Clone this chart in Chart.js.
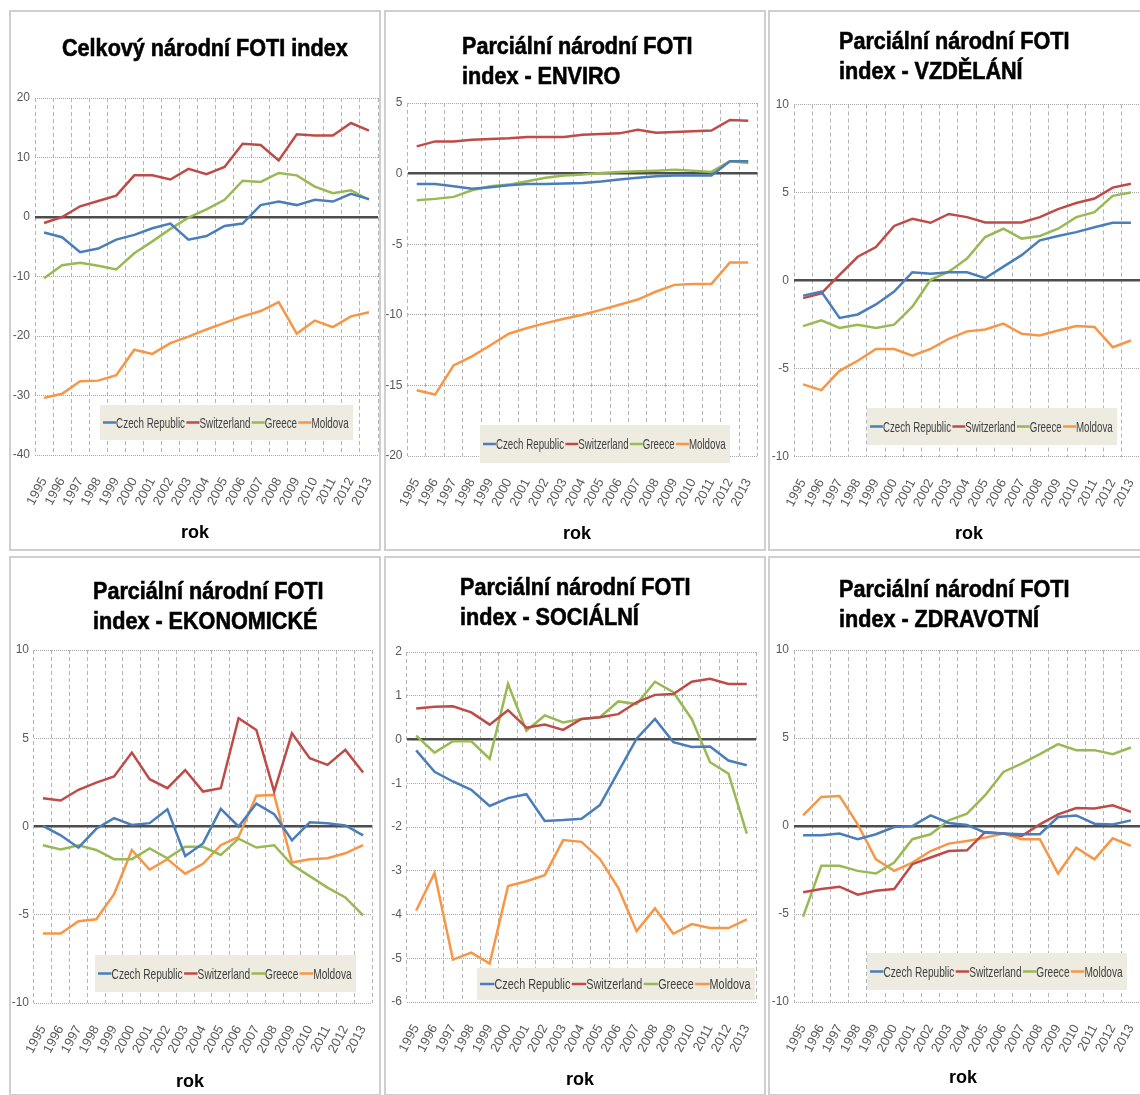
<!DOCTYPE html>
<html>
<head>
<meta charset="utf-8">
<script src="https://cdn.jsdelivr.net/npm/chart.js@4"></script>
<style>
  body { margin: 0; width: 1140px; height: 1095px; overflow: hidden; background: #fff; position: relative; }
  canvas { position: absolute; }
  .frame { position: absolute; border: 2px solid #cfcfcf; box-sizing: border-box; pointer-events: none; }
  .title { position: absolute; font-family: 'Liberation Sans', Arial, sans-serif; font-weight: bold; font-size: 24px; line-height: 30px;
           color: #000; white-space: nowrap; -webkit-text-stroke: 0.6px #000; transform-origin: left top; transform: scaleX(0.9); }
  .rok { position: absolute; font-family: 'Liberation Sans', Arial, sans-serif; font-weight: bold; font-size: 18px; line-height: 20px; color: #000; transform: translateX(-50%); }
</style>
</head>
<body>
<script>
const years = ['1995', '1996', '1997', '1998', '1999', '2000', '2001', '2002', '2003', '2004',
  '2005', '2006', '2007', '2008', '2009', '2010', '2011', '2012', '2013'];
const seriesNames = ['Czech Republic', 'Switzerland', 'Greece', 'Moldova'];

// Celkový národní FOTI index
const totalCz = [-2.6, -3.4, -5.9, -5.3, -3.8, -3.0, -1.9, -1.1, -3.8, -3.2, -1.5, -1.1, 2.0, 2.6, 2.0, 2.9, 2.6, 3.9, 3.0];
const totalCh = [-1.0, 0.0, 1.8, 2.7, 3.6, 7.0, 7.0, 6.3, 8.1, 7.2, 8.4, 12.3, 12.1, 9.5, 13.9, 13.7, 13.7, 15.8, 14.5];
const totalGr = [-10.3, -8.1, -7.7, -8.2, -8.8, -6.1, -4.1, -2.0, -0.1, 1.3, 2.9, 6.1, 5.9, 7.4, 7.0, 5.1, 4.0, 4.5, 2.9];
const totalMd = [-30.4, -29.7, -27.6, -27.5, -26.6, -22.3, -23.0, -21.2, -20.1, -18.9, -17.8, -16.7, -15.8, -14.3, -19.6, -17.4, -18.5, -16.7, -16.0];

// ENVIRO
const enviroCz = [-0.73, -0.73, -0.9, -1.08, -0.96, -0.82, -0.73, -0.73, -0.7, -0.66, -0.56, -0.42, -0.3, -0.19, -0.14, -0.14, -0.14, 0.87, 0.87];
const enviroCh = [1.93, 2.28, 2.28, 2.4, 2.45, 2.5, 2.6, 2.6, 2.6, 2.75, 2.8, 2.85, 3.1, 2.9, 2.95, 3.0, 3.05, 3.8, 3.75];
const enviroGr = [-1.88, -1.79, -1.65, -1.18, -0.9, -0.78, -0.54, -0.3, -0.14, -0.07, 0.05, 0.12, 0.16, 0.21, 0.28, 0.21, 0.12, 0.87, 0.75];
const enviroMd = [-15.34, -15.65, -13.58, -12.94, -12.16, -11.34, -10.94, -10.59, -10.28, -10.0, -9.65, -9.29, -8.92, -8.35, -7.88, -7.81, -7.81, -6.3, -6.3];

// VZDĚLÁNÍ
const eduCz = [-0.86, -0.63, -2.13, -1.93, -1.36, -0.63, 0.47, 0.39, 0.47, 0.47, 0.13, 0.79, 1.44, 2.28, 2.53, 2.75, 3.03, 3.28, 3.28];
const eduCh = [-1.0, -0.73, 0.32, 1.35, 1.9, 3.1, 3.5, 3.28, 3.78, 3.6, 3.3, 3.3, 3.3, 3.6, 4.06, 4.4, 4.66, 5.28, 5.5];
const eduGr = [-2.59, -2.26, -2.7, -2.51, -2.7, -2.51, -1.49, 0.04, 0.5, 1.25, 2.47, 2.94, 2.38, 2.53, 2.94, 3.6, 3.88, 4.81, 5.0];
const eduMd = [-5.9, -6.23, -5.13, -4.56, -3.89, -3.89, -4.27, -3.89, -3.31, -2.89, -2.78, -2.45, -3.03, -3.12, -2.84, -2.59, -2.64, -3.79, -3.41];

// EKONOMICKÉ
const econCz = [0.04, -0.5, -1.2, -0.13, 0.47, 0.09, 0.19, 0.98, -1.67, -0.96, 1.0, 0.0, 1.3, 0.7, -0.78, 0.24, 0.19, 0.06, -0.5];
const econCh = [1.6, 1.47, 2.08, 2.49, 2.83, 4.19, 2.68, 2.17, 3.2, 1.98, 2.17, 6.13, 5.47, 1.98, 5.28, 3.87, 3.49, 4.34, 3.06];
const econGr = [-1.06, -1.3, -1.06, -1.33, -1.85, -1.85, -1.24, -1.8, -1.15, -1.15, -1.61, -0.69, -1.19, -1.06, -2.17, -2.81, -3.46, -4.02, -5.04];
const econMd = [-6.06, -6.06, -5.37, -5.26, -3.83, -1.33, -2.44, -1.85, -2.67, -2.11, -1.06, -0.59, 1.74, 1.79, -2.04, -1.85, -1.8, -1.52, -1.06];

// SOCIÁLNÍ
const socCz = [-0.25, -0.74, -0.96, -1.15, -1.52, -1.34, -1.25, -1.86, -1.84, -1.81, -1.5, -0.74, 0.02, 0.47, -0.06, -0.17, -0.16, -0.48, -0.59];
const socCh = [0.71, 0.75, 0.76, 0.62, 0.34, 0.67, 0.27, 0.34, 0.22, 0.47, 0.51, 0.58, 0.85, 1.02, 1.04, 1.32, 1.39, 1.27, 1.27];
const socGr = [0.09, -0.3, -0.04, -0.04, -0.44, 1.27, 0.2, 0.55, 0.39, 0.47, 0.51, 0.87, 0.81, 1.32, 1.08, 0.47, -0.52, -0.78, -2.15];
const socMd = [-3.91, -3.05, -5.03, -4.87, -5.12, -3.35, -3.24, -3.1, -2.3, -2.34, -2.73, -3.39, -4.38, -3.86, -4.44, -4.22, -4.31, -4.31, -4.11];

// ZDRAVOTNÍ
const healthCz = [-0.53, -0.53, -0.43, -0.75, -0.47, -0.06, 0.0, 0.6, 0.17, 0.06, -0.38, -0.43, -0.47, -0.47, 0.51, 0.6, 0.13, 0.09, 0.32];
const healthCh = [-3.77, -3.58, -3.45, -3.9, -3.68, -3.58, -2.17, -1.79, -1.42, -1.38, -0.34, -0.43, -0.57, 0.09, 0.66, 1.02, 0.99, 1.18, 0.8];
const healthGr = [-5.15, -2.26, -2.26, -2.55, -2.7, -2.08, -0.75, -0.47, 0.32, 0.7, 1.75, 3.07, 3.55, 4.08, 4.65, 4.31, 4.31, 4.08, 4.46];
const healthMd = [0.6, 1.65, 1.7, 0.09, -1.89, -2.55, -2.08, -1.42, -1.0, -0.85, -0.66, -0.43, -0.75, -0.75, -2.7, -1.23, -1.89, -0.7, -1.13];

const colors = ['#4a7ebb', '#be4b48', '#98b954', '#f79646'];
const tickFont = "'Liberation Sans Narrow', 'Liberation Sans', Arial, sans-serif";
const Y_WIDTH = 22;
const X_HEIGHT = 66;

// box = panel frame, area = plot area, legend = legend box, all in page pixels
const panels = [
  { box: [9, 10, 372, 541], area: [35, 98, 378, 455], min: -40, max: 20, step: 10,
    series: [totalCz, totalCh, totalGr, totalMd], legend: [100, 405, 253, 35],
    title: ['Celkový národní FOTI index'], titlePos: [62, 33], rok: [195, 522] },
  { box: [384, 10, 382, 541], area: [407.5, 103, 757.5, 456], min: -20, max: 5, step: 5,
    series: [enviroCz, enviroCh, enviroGr, enviroMd], legend: [480, 425, 250, 38],
    title: ['Parciální národní FOTI', 'index - ENVIRO'], titlePos: [462, 31], rok: [577, 523] },
  { box: [768, 10, 374, 541], area: [794, 104.5, 1140, 456.5], min: -10, max: 10, step: 5,
    series: [eduCz, eduCh, eduGr, eduMd], legend: [867, 408, 250, 37],
    title: ['Parciální národní FOTI', 'index - VZDĚLÁNÍ'], titlePos: [839, 26], rok: [969, 523] },
  { box: [9, 556, 372, 540], area: [34, 650, 372, 1003], min: -10, max: 10, step: 5,
    series: [econCz, econCh, econGr, econMd], legend: [95, 955, 261, 37],
    title: ['Parciální národní FOTI', 'index - EKONOMICKÉ'], titlePos: [93, 576], rok: [190, 1071] },
  { box: [384, 556, 382, 540], area: [407, 652, 756, 1002], min: -6, max: 2, step: 1,
    series: [socCz, socCh, socGr, socMd], legend: [477, 968, 278, 32],
    title: ['Parciální národní FOTI', 'index - SOCIÁLNÍ'], titlePos: [460, 572], rok: [580, 1069] },
  { box: [768, 556, 374, 540], area: [794, 650, 1140, 1002], min: -10, max: 10, step: 5,
    series: [healthCz, healthCh, healthGr, healthMd], legend: [867, 953, 260, 37],
    title: ['Parciální národní FOTI', 'index - ZDRAVOTNÍ'], titlePos: [839, 574], rok: [963, 1067] }
];

const boxLegend = {
  id: 'boxLegend',
  afterDatasetsDraw(chart, args, opts) {
    const ctx = chart.ctx;
    ctx.save();
    ctx.fillStyle = '#eeece1';
    ctx.fillRect(opts.x, opts.y, opts.w, opts.h);
    ctx.font = "15px " + tickFont;
    const lineLen = 20, gap = 2;
    const items = chart.data.datasets.map(ds => ({ label: ds.label, color: ds.borderColor, tw: ctx.measureText(ds.label).width }));
    const total = items.reduce((s, it) => s + lineLen + it.tw + gap, 0);
    const sx = Math.min(1.1, (opts.w - 6) / total);
    ctx.translate(opts.x + 3, opts.y + opts.h / 2);
    ctx.scale(sx, 1);
    let x = 0;
    items.forEach(it => {
      ctx.strokeStyle = it.color;
      ctx.lineWidth = 2.5;
      ctx.beginPath();
      ctx.moveTo(x, 0);
      ctx.lineTo(x + lineLen, 0);
      ctx.stroke();
      x += lineLen;
      ctx.fillStyle = '#3f3f3f';
      ctx.textBaseline = 'middle';
      ctx.fillText(it.label, x, 1);
      x += it.tw + gap;
    });
    ctx.restore();
  }
};

panels.forEach(p => {
  const [bx, by, bw, bh] = p.box;
  const [L, T, R, B] = p.area;

  const canvas = document.createElement('canvas');
  canvas.width = bw;
  canvas.height = bh;
  canvas.style.left = bx + 'px';
  canvas.style.top = by + 'px';
  document.body.appendChild(canvas);

  const frame = document.createElement('div');
  frame.className = 'frame';
  frame.style.left = bx + 'px';
  frame.style.top = by + 'px';
  frame.style.width = bw + 'px';
  frame.style.height = bh + 'px';
  document.body.appendChild(frame);

  const title = document.createElement('div');
  title.className = 'title';
  title.innerHTML = p.title.join('<br>');
  title.style.left = p.titlePos[0] + 'px';
  title.style.top = p.titlePos[1] + 'px';
  document.body.appendChild(title);

  const rok = document.createElement('div');
  rok.className = 'rok';
  rok.textContent = 'rok';
  rok.style.left = p.rok[0] + 'px';
  rok.style.top = p.rok[1] + 'px';
  document.body.appendChild(rok);

  const isZero = c => c.tick && Math.abs(c.tick.value) < 1e-9;

  new Chart(canvas, {
    type: 'line',
    data: {
      labels: years,
      datasets: p.series.map((d, i) => ({
        label: seriesNames[i],
        data: d,
        borderColor: colors[i],
        backgroundColor: colors[i],
        borderWidth: 2.5,
        pointRadius: 0,
        tension: 0,
        fill: false
      }))
    },
    options: {
      responsive: false,
      animation: false,
      devicePixelRatio: 1,
      layout: {
        padding: {
          left: L - bx - Y_WIDTH,
          top: T - by,
          right: bx + bw - R,
          bottom: by + bh - B - X_HEIGHT
        }
      },
      plugins: {
        legend: { display: false },
        tooltip: { enabled: false },
        boxLegend: { x: p.legend[0] - bx, y: p.legend[1] - by, w: p.legend[2], h: p.legend[3] }
      },
      scales: {
        x: {
          offset: true,
          grid: { offset: true, color: '#b4b4b4', lineWidth: 1, drawTicks: false },
          border: { display: false, dash: [4, 3] },
          ticks: {
            autoSkip: false,
            minRotation: 62,
            maxRotation: 62,
            padding: 20,
            color: '#595959',
            font: { family: tickFont, size: 13 }
          },
          afterFit(scale) {
            scale.height = X_HEIGHT;
            scale.paddingLeft = 0;
            scale.paddingRight = 0;
          }
        },
        y: {
          min: p.min,
          max: p.max,
          grid: {
            color: c => isZero(c) ? '#4d4d4d' : '#a8a8a8',
            lineWidth: c => isZero(c) ? 2.5 : 1,
            drawTicks: false
          },
          border: { display: false, dash: c => isZero(c) ? [] : [1, 1] },
          ticks: {
            stepSize: p.step,
            padding: 5,
            color: '#595959',
            font: { family: tickFont, size: 12 }
          },
          afterFit(scale) {
            scale.width = Y_WIDTH;
            scale.paddingTop = 0;
            scale.paddingBottom = 0;
          }
        }
      }
    },
    plugins: [boxLegend]
  });
});
</script>
</body>
</html>
